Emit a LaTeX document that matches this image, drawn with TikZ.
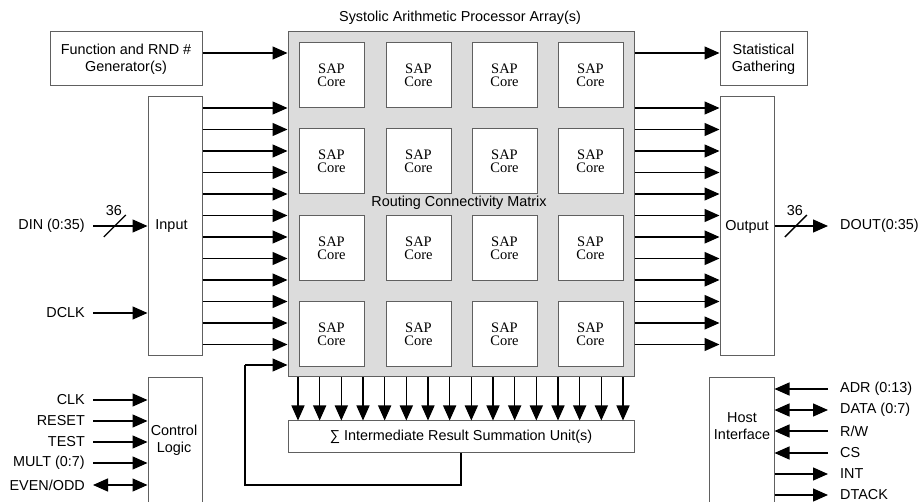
\documentclass[tikz,border=0pt]{standalone}
\usepackage{fontspec}
\setmainfont{Liberation Sans}
\newfontfamily\corefont{Liberation Serif}
\usetikzlibrary{arrows.meta,calc}
\definecolor{bordergray}{HTML}{606060}
\definecolor{fillgray}{HTML}{DCDCDC}
\begin{document}
\begin{tikzpicture}[x=1pt,y=-1pt,
  every node/.style={font=\fontsize{14.4}{17}\selectfont},
  box/.style={draw=bordergray, line width=1pt, fill=white, inner sep=0pt, align=center},
  core/.style={box, minimum width=65pt, minimum height=65pt, font=\corefont\fontsize{14.5}{13}\selectfont},
  sig/.style={line width=1.4pt, -{Triangle[length=15pt,width=13pt]}},
  bisig/.style={line width=1.4pt, {Triangle[length=15pt,width=13pt]}-{Triangle[length=15pt,width=13pt]}},
  plain/.style={line width=1.4pt},
  llab/.style={anchor=east, inner xsep=8pt, inner ysep=0pt},
  rlab/.style={anchor=west, inner xsep=12pt, inner ysep=0pt},
]
\useasboundingbox (0,0) rectangle (919,502);
\fill[white] (0,0) rectangle (919,502);

% main array
\node[box, fill=fillgray, minimum width=346pt, minimum height=345pt] (sap) at (461,204.5) {};
\node[inner sep=0pt] (title) at (460,18) {Systolic Arithmetic Processor Array(s)};
\foreach \c/\cx in {1/331.5,2/418.5,3/504.5,4/590.5}{
  \foreach \r/\ry in {1/75.5,2/161.5,3/248.5,4/334.5}{
    \node[core] (core\r\c) at (\cx,\ry) {SAP\\Core};
  }
}
\node[inner sep=0pt] (rcm) at (459,203) {Routing Connectivity Matrix};

% side boxes
\node[box, minimum width=152pt, minimum height=54pt] (func) at (126,59) {Function and RND \#\\Generator(s)};
\node[box, minimum width=87pt, minimum height=54pt] (stat) at (763.5,59) {Statistical\\Gathering};
\node[box, minimum width=54pt, minimum height=259pt] (input) at (175,226.5) {};
\node[inner sep=0pt] (inlab) at (171.5,226) {Input};
\node[box, minimum width=54pt, minimum height=259pt] (output) at (747,226.5) {Output};
\node[box, minimum width=54pt, minimum height=125pt] (ctrl) at (175,440.5) {};
\node[inner sep=0pt, align=center] (ctrllab) at (174,440) {Control\\Logic};
\node[box, minimum width=65pt, minimum height=125pt] (host) at (741.5,440.5) {};
\node[inner sep=0pt, align=center] (hostlab) at (742,426) {Host\\Interface};
\node[box, minimum width=346pt, minimum height=32pt] (sum) at (461,437) {∑ Intermediate Result Summation Unit(s)};

% function & statistical arrows
\draw[sig] (func.east |- 0,53) -- (sap.west |- 0,53);
\draw[sig] (sap.east |- 0,53) -- (stat.west |- 0,53);

% input / output arrows
\foreach \i in {0,...,11}{
  \pgfmathsetmacro{\yy}{108+21.5*\i}
  \draw[sig] (input.east |- 0,\yy) -- (sap.west |- 0,\yy);
  \draw[sig] (sap.east |- 0,\yy) -- (output.west |- 0,\yy);
}

% down arrows to summation
\foreach \i in {0,...,15}{
  \pgfmathsetmacro{\xx}{298+21.667*\i}
  \draw[sig] (sap.south -| \xx,0) -- (sum.north -| \xx,0);
}

% feedback
\coordinate (fb1) at (461,485);
\coordinate (fb2) at (245,485);
\coordinate (fb3) at (245,365);
\draw[plain] (sum.south) -- (fb1) -- (fb2) -- (fb3);
\draw[sig] (fb3) -- (sap.west |- fb3);

% left signals
\node[llab] (din) at (93,226) {DIN (0:35)};
\draw[sig] (din.east) -- coordinate[pos=0.4] (s1) (input.west |- din.east);
\draw[line width=1.3pt] ($(s1)+(-11,11)$) -- ($(s1)+(11,-11)$);
\node[inner sep=0pt] (n36a) at ($(s1)+(-1,-15)$) {36};
\node[llab] (dclk) at (93,313) {DCLK};
\draw[sig] (dclk.east) -- (input.west |- dclk.east);

\node[llab] (clk) at (93,400) {CLK};
\node[llab] (reset) at (93,421) {RESET};
\node[llab] (test) at (93,442) {TEST};
\node[llab] (mult) at (93,463) {MULT (0:7)};
\node[llab] (evod) at (93,485) {EVEN/ODD};
\foreach \n in {clk,reset,test,mult}{
  \draw[sig] (\n.east) -- (ctrl.west |- \n.east);
}
\draw[bisig] (evod.east) -- (ctrl.west |- evod.east);

% right signals
\node[rlab] (dout) at (828,226) {DOUT(0:35)};
\draw[sig] (output.east |- dout.west) -- coordinate[pos=0.4] (s2) (dout.west);
\draw[line width=1.3pt] ($(s2)+(-11,11)$) -- ($(s2)+(11,-11)$);
\node[inner sep=0pt] (n36b) at ($(s2)+(-1,-15)$) {36};

\node[rlab] (adr) at (828,389) {ADR (0:13)};
\node[rlab] (data) at (828,410) {DATA (0:7)};
\node[rlab] (rw) at (828,431) {R/W};
\node[rlab] (cs) at (828,453) {CS};
\node[rlab] (int) at (828,474) {INT};
\node[rlab] (dtack) at (828,495) {DTACK};
\foreach \n in {adr,rw,cs}{
  \draw[sig] (\n.west) -- (host.east |- \n.west);
}
\draw[bisig] (host.east |- data.west) -- (data.west);
\foreach \n in {int,dtack}{
  \draw[sig] (host.east |- \n.west) -- (\n.west);
}
\end{tikzpicture}
\end{document}
